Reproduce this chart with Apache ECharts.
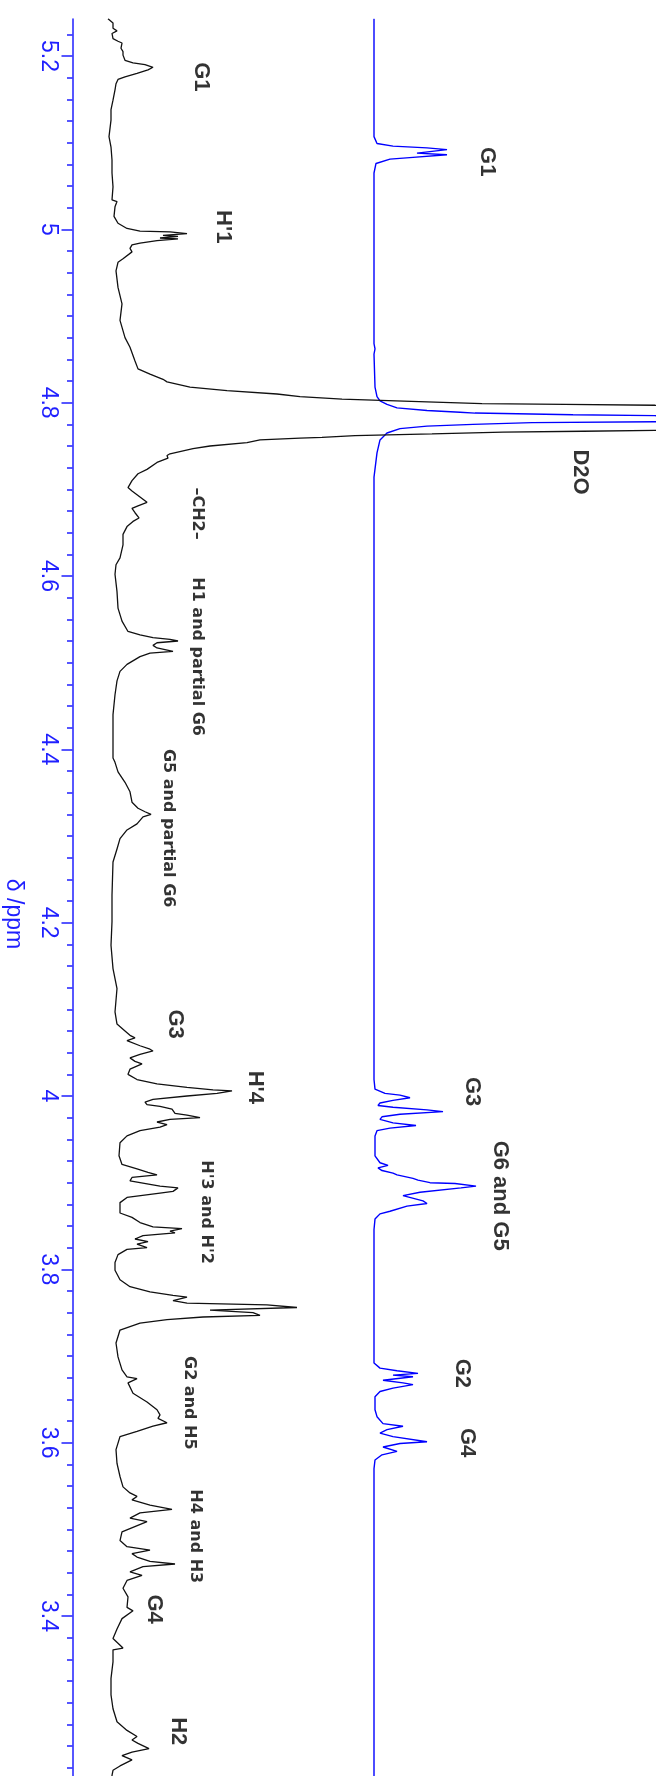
<!DOCTYPE html>
<html>
<head>
<meta charset="utf-8">
<script src="https://cdn.jsdelivr.net/npm/echarts@6/dist/echarts.min.js"></script>
<style>
html, body { margin: 0; padding: 0; background: #fff; }
#chart { width: 669px; height: 1776px; }
</style>
</head>
<body>
<div id="chart"></div>
<script>
// black trace (top spectrum in the original), ppm + intensity
var blackPpm = [5.243,5.238,5.232,5.229,5.226,5.220,5.217,5.215,5.209,5.205,5.201,5.195,5.192,5.190,5.187,5.184,5.180,5.176,5.173,5.168,
	5.161,5.149,5.138,5.126,5.107,5.095,5.080,5.065,5.049,5.034,5.032,5.026,5.015,5.007,5.001,4.998,4.997,4.995,4.993,4.992,
	4.990,4.989,4.987,4.984,4.982,4.978,4.974,4.972,4.966,4.962,4.952,4.933,4.914,4.895,4.875,4.864,4.848,4.839,4.833,4.827,
	4.824,4.818,4.814,4.810,4.807,4.804,4.801,4.799,4.798,4.797,4.782,4.768,4.767,4.766,4.764,4.762,4.760,4.759,4.757,4.754,
	4.750,4.747,4.741,4.739,4.736,4.731,4.723,4.718,4.710,4.702,4.698,4.693,4.685,4.681,4.678,4.673,4.667,4.663,4.657,4.648,
	4.636,4.621,4.613,4.602,4.582,4.563,4.548,4.536,4.532,4.529,4.527,4.525,4.523,4.520,4.517,4.513,4.511,4.507,4.498,4.490,
	4.479,4.463,4.440,4.417,4.390,4.385,4.374,4.362,4.351,4.339,4.332,4.328,4.325,4.322,4.314,4.307,4.297,4.285,4.270,4.232,
	4.201,4.174,4.147,4.124,4.097,4.083,4.075,4.070,4.067,4.064,4.058,4.054,4.052,4.048,4.044,4.040,4.037,4.035,4.031,4.025,
	4.019,4.014,4.010,4.007,4.006,4.003,4.000,3.996,3.993,3.990,3.988,3.985,3.980,3.978,3.975,3.973,3.970,3.967,3.964,3.960,
	3.954,3.946,3.931,3.921,3.916,3.912,3.909,3.906,3.902,3.900,3.896,3.894,3.890,3.888,3.883,3.877,3.865,3.860,3.854,3.849,
	3.847,3.844,3.842,3.839,3.835,3.832,3.829,3.825,3.823,3.817,3.808,3.799,3.788,3.780,3.774,3.770,3.768,3.764,3.761,3.759,
	3.756,3.753,3.750,3.747,3.745,3.742,3.738,3.730,3.715,3.699,3.684,3.676,3.674,3.669,3.657,3.647,3.638,3.632,3.628,3.623,
	3.619,3.613,3.607,3.592,3.576,3.561,3.549,3.542,3.538,3.534,3.528,3.523,3.519,3.513,3.509,3.497,3.487,3.480,3.476,3.472,
	3.468,3.463,3.460,3.457,3.451,3.447,3.441,3.432,3.422,3.410,3.406,3.397,3.385,3.374,3.363,3.361,3.347,3.328,3.309,3.293,
	3.278,3.268,3.261,3.257,3.253,3.247,3.243,3.239,3.234,3.227,3.222,3.216,3.210];
var blackInt = [3,8,8,12,7,8,13,17,16,18,18,20,28,40,48,43,32,20,13,11,
	10,8,6,6,4,6,7,7,8,7,12,10,9,13,22,35,65,82,58,73,
	55,73,52,35,27,25,27,25,18,13,11,13,17,15,20,25,30,33,45,58,
	62,85,122,172,195,237,322,377,460,550,8000,550,478,398,327,250,217,195,155,142,
	105,88,65,62,63,52,42,33,27,23,27,33,42,33,27,30,34,28,22,18,
	18,15,11,10,12,13,17,23,35,48,65,73,52,48,52,68,45,35,22,15,
	12,10,8,8,8,10,13,20,25,27,33,40,46,38,32,22,15,12,8,7,
	7,6,8,12,10,12,20,25,30,22,35,45,48,35,25,30,37,33,25,23,
	32,52,82,108,127,112,82,48,40,42,55,67,70,82,95,65,52,62,55,35,
	22,15,14,17,32,43,52,27,25,35,55,73,68,55,22,15,15,27,35,48,
	77,65,70,38,30,43,32,42,22,13,10,10,15,25,45,68,82,68,82,162,
	192,105,148,155,98,62,35,15,11,13,17,22,32,23,28,42,52,55,53,62,
	48,32,15,11,12,15,18,25,32,27,45,67,35,25,42,17,15,22,45,27,
	32,45,70,38,25,37,22,18,23,22,28,17,12,8,18,8,8,6,6,8,
	12,22,32,27,33,44,27,17,27,15,8,7,7];

// blue trace (reference spectrum)
var bluePpm = [5.243,5.107,5.099,5.096,5.094,5.092,5.088,5.086,5.083,5.081,5.076,5.065,4.868,4.862,4.856,4.818,4.807,4.802,4.798,4.794,
	4.791,4.789,4.788,4.786,4.785,4.782,4.778,4.777,4.775,4.773,4.770,4.765,4.757,4.742,4.714,4.019,4.008,4.003,4.001,3.998,
	3.995,3.992,3.989,3.987,3.984,3.982,3.979,3.976,3.973,3.969,3.966,3.963,3.960,3.954,3.931,3.923,3.920,3.917,3.914,3.911,
	3.909,3.905,3.903,3.900,3.899,3.896,3.894,3.892,3.889,3.885,3.883,3.879,3.876,3.873,3.867,3.864,3.858,3.846,3.692,3.686,
	3.683,3.680,3.678,3.676,3.672,3.669,3.667,3.663,3.659,3.653,3.638,3.630,3.622,3.619,3.615,3.611,3.607,3.601,3.599,3.595,
	3.590,3.586,3.580,3.570,3.210];
var blueInt = [0,0,3,19,53,73,43,73,39,16,2,0,0,1,0,1,3,6,13,23,
	53,86,101,199,281,8000,281,158,99,53,26,13,6,3,0,0,1,11,26,36,
	19,6,4,19,53,69,26,8,6,19,42,16,3,1,1,6,14,4,8,19,
	23,39,44,56,81,102,87,89,46,29,28,49,53,33,16,6,1,0,0,6,
	23,44,19,39,9,29,39,19,6,1,1,3,9,29,13,6,19,53,26,9,
	23,8,1,0,0];

// axis ticks (ppm)
var majorTicks = [3.4, 3.6, 3.8, 4, 4.2, 4.4, 4.6, 4.8, 5, 5.2];
var ppmMin = 3.2154, ppmMax = 5.2427;

// peak assignments: bold ones and the smaller descriptive ones
var bigText = ['G1', 'G1', "H'1", 'D2O', 'G3', "H'4", 'G3', 'G6 and G5', 'G2', 'G4', 'G4', 'H2'];
var bigPpm  = [5.176, 5.078, 5.003, 4.720, 4.083, 4.010, 4.005, 3.885, 3.680, 3.600, 3.408, 3.267];
var bigPos  = [96.5, 382, 118, 475, 70.5, 150, 367.5, 395, 357, 362.5, 49, 73.5];
var smallText = ['–CH2–', 'H1 and partial G6', 'G5 and partial G6', "H'3 and H'2", 'G2 and H5', 'H4 and H3'];
var smallPpm  = [4.672, 4.507, 4.309, 3.866, 3.646, 3.492];
var smallPos  = [92, 92.5, 63, 101, 84, 90.5];

function pairs(ppm, val){
	var out = [];
	for(var i = 0; i < ppm.length; i++){
		out.push([val[i], ppm[i]]);
	}
	return out;
}

function labelItems(text, ppm, pos){
	var out = [];
	for(var i = 0; i < text.length; i++){
		out.push({name: text[i], value: [pos[i], ppm[i]]});
	}
	return out;
}

var minorTicks = [];
for(var k = 129; k <= 209; k++){
	minorTicks.push(Math.round(k * 25) / 1000);
}

var AXIS_BLUE = '#1f1fff';
var myChart = echarts.init(document.getElementById('chart'), null, {renderer: 'canvas'});

var option = {
	animation: false,
	backgroundColor: '#fff',
	grid: { left: 72.5, right: 14, top: 19, bottom: 0, containLabel: false },
	xAxis: [
		{ type: 'value', min: -32.5, max: 550, show: false },
		{ type: 'value', min: -301.5, max: 281, show: false }
	],
	yAxis: [
		{
			type: 'value',
			position: 'left',
			offset: 0,
			min: ppmMin,
			max: ppmMax,
			axisLine: { show: true, onZero: false, lineStyle: { color: AXIS_BLUE, width: 1.5 } },
			axisTick: { show: true, length: 11, customValues: majorTicks, lineStyle: { color: AXIS_BLUE, width: 1.5 } },
			axisLabel: {
				show: true,
				customValues: majorTicks,
				rotate: -90,
				margin: 13,
				color: AXIS_BLUE,
				fontFamily: 'Liberation Sans',
				fontSize: 23,
				formatter: function(v){ return String(+(+v).toFixed(2)); }
			},
			splitLine: { show: false }
		},
		{
			// minor ticks every 0.025 ppm
			type: 'value',
			position: 'left',
			offset: 0,
			min: ppmMin,
			max: ppmMax,
			axisLine: { show: false, onZero: false },
			axisTick: { show: true, length: 5.5, customValues: minorTicks, lineStyle: { color: AXIS_BLUE, width: 1.5 } },
			axisLabel: { show: false },
			splitLine: { show: false }
		}
	],
	graphic: [
		{
			type: 'text',
			x: 13,
			y: 914,
			rotation: -Math.PI / 2,
			style: {
				text: 'δ /ppm',
				fill: AXIS_BLUE,
				font: '23px "Liberation Sans"',
				align: 'center',
				verticalAlign: 'middle'
			}
		}
	],
	series: [
		{
			name: 'blue',
			type: 'line',
			xAxisIndex: 1,
			yAxisIndex: 0,
			data: pairs(bluePpm, blueInt),
			showSymbol: false,
			symbol: 'none',
			clip: true,
			silent: true,
			lineStyle: { color: '#0000ff', width: 1.4 }
		},
		{
			name: 'black',
			type: 'line',
			xAxisIndex: 0,
			yAxisIndex: 0,
			data: pairs(blackPpm, blackInt),
			showSymbol: false,
			symbol: 'none',
			clip: true,
			silent: true,
			lineStyle: { color: '#111', width: 1.3 }
		},
		{
			name: 'bigLabels',
			type: 'scatter',
			xAxisIndex: 0,
			yAxisIndex: 0,
			symbolSize: 1,
			silent: true,
			itemStyle: { color: 'rgba(0,0,0,0)' },
			data: labelItems(bigText, bigPpm, bigPos),
			label: {
				show: true,
				position: 'inside',
				rotate: -90,
				formatter: '{b}',
				color: '#000',
				fontFamily: 'Liberation Sans',
				fontWeight: 'bold',
				fontSize: 22
			}
		},
		{
			name: 'smallLabels',
			type: 'scatter',
			xAxisIndex: 0,
			yAxisIndex: 0,
			symbolSize: 1,
			silent: true,
			itemStyle: { color: 'rgba(0,0,0,0)' },
			data: labelItems(smallText, smallPpm, smallPos),
			label: {
				show: true,
				position: 'inside',
				rotate: -90,
				formatter: '{b}',
				color: '#000',
				fontFamily: 'DejaVu Sans',
				fontWeight: 'bold',
				fontSize: 16
			}
		}
	]
};

myChart.setOption(option);
</script>
</body>
</html>
